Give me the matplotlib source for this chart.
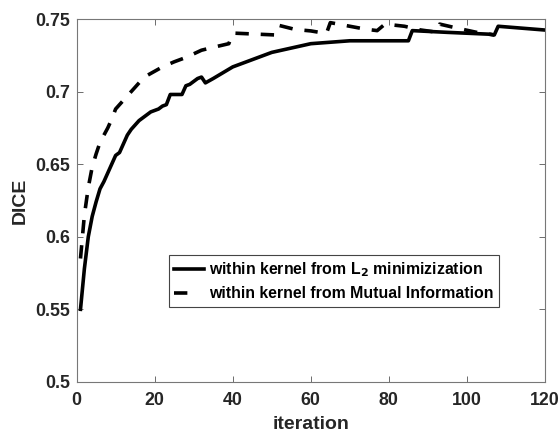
import matplotlib.pyplot as plt

plt.rcParams['font.family'] = ['Liberation Sans', 'DejaVu Sans']
plt.rcParams['font.weight'] = 'bold'

# solid curve: kernel from L2 minimization
it_l2 = [1, 2, 3, 4, 5, 6, 7, 8, 9, 10, 11, 12, 13, 14, 15, 16, 17, 18, 19, 20,
         21, 22, 23, 24, 25, 26, 27, 28, 29, 30, 31, 32, 33, 35, 40, 45, 50, 55,
         60, 65, 70, 85, 86, 95, 106, 107, 108, 120]
dice_l2 = [0.550, 0.578, 0.600, 0.614, 0.624, 0.633, 0.638, 0.644, 0.650, 0.656,
           0.658, 0.664, 0.670, 0.674, 0.677, 0.680, 0.682, 0.684, 0.686, 0.687,
           0.688, 0.690, 0.691, 0.698, 0.698, 0.698, 0.698, 0.704, 0.705, 0.707,
           0.709, 0.710, 0.706, 0.709, 0.717, 0.722, 0.727, 0.730,
           0.733, 0.734, 0.735, 0.735, 0.742, 0.7408, 0.7395, 0.739, 0.745, 0.7424]

# dashed curve: kernel from mutual information
it_mi = [1, 2, 3, 4, 5, 6, 7, 8, 9, 10, 11, 12, 13, 14, 15, 16, 17, 18, 20, 22,
         25, 28, 30, 32, 35, 39, 40, 51, 52, 56, 60, 64, 65, 70, 74, 77, 79, 84,
         88, 92, 93, 97, 103, 107]
dice_mi = [0.585, 0.615, 0.634, 0.648, 0.657, 0.665, 0.670, 0.675, 0.681, 0.688,
           0.691, 0.694, 0.697, 0.700, 0.703, 0.706, 0.709, 0.711, 0.714, 0.717,
           0.7205, 0.7235, 0.726, 0.7285, 0.7305, 0.733, 0.7403, 0.739, 0.7455, 0.7428,
           0.7418, 0.740, 0.7475, 0.745, 0.743, 0.742, 0.7465, 0.745,
           0.7425, 0.741, 0.7465, 0.744, 0.7405, 0.739]

fig = plt.figure(figsize=(5.59, 4.32), dpi=100)
ax = fig.add_axes([0.137, 0.116, 0.838, 0.840])

ax.plot(it_l2, dice_l2, color='black', lw=2.6, label='within kernel from L$_2$ minimizization')
ax.plot(it_mi, dice_mi, color='black', lw=2.6, dashes=(3.7, 3.3),
        label='within kernel from Mutual Information')

ax.set_xlim(0, 120)
ax.set_ylim(0.5, 0.75)
ax.set_xticks(range(0, 121, 20))
ax.set_yticks([0.5, 0.55, 0.6, 0.65, 0.7, 0.75])
ax.set_yticklabels(['0.5', '0.55', '0.6', '0.65', '0.7', '0.75'])
ax.tick_params(direction='in', top=True, right=True, length=4, width=0.6,
               color='#555555', labelsize=12.8, labelcolor='#262626')
ax.tick_params(axis='x', pad=7)
ax.tick_params(axis='y', pad=4.5)
for s in ax.spines.values():
    s.set_color('#777777')
    s.set_linewidth(0.8)

ax.set_xlabel('iteration', fontsize=14, fontweight='bold', color='#262626', labelpad=5)
ax.set_ylabel('DICE', fontsize=14, fontweight='bold', color='#262626', labelpad=5)

leg = ax.legend(loc='lower left', bbox_to_anchor=(0.197, 0.207), borderaxespad=0,
                fontsize=11.4, fancybox=False, framealpha=1, edgecolor='#444444',
                handlelength=1.9, handletextpad=0.3, borderpad=0.35, labelspacing=0.45)
leg.get_frame().set_linewidth(0.8)
leg.get_lines()[1].set_dashes((3.7, 9))
for t in leg.get_texts():
    t.set_fontweight('bold')

fig.savefig('out.png', dpi=100)
